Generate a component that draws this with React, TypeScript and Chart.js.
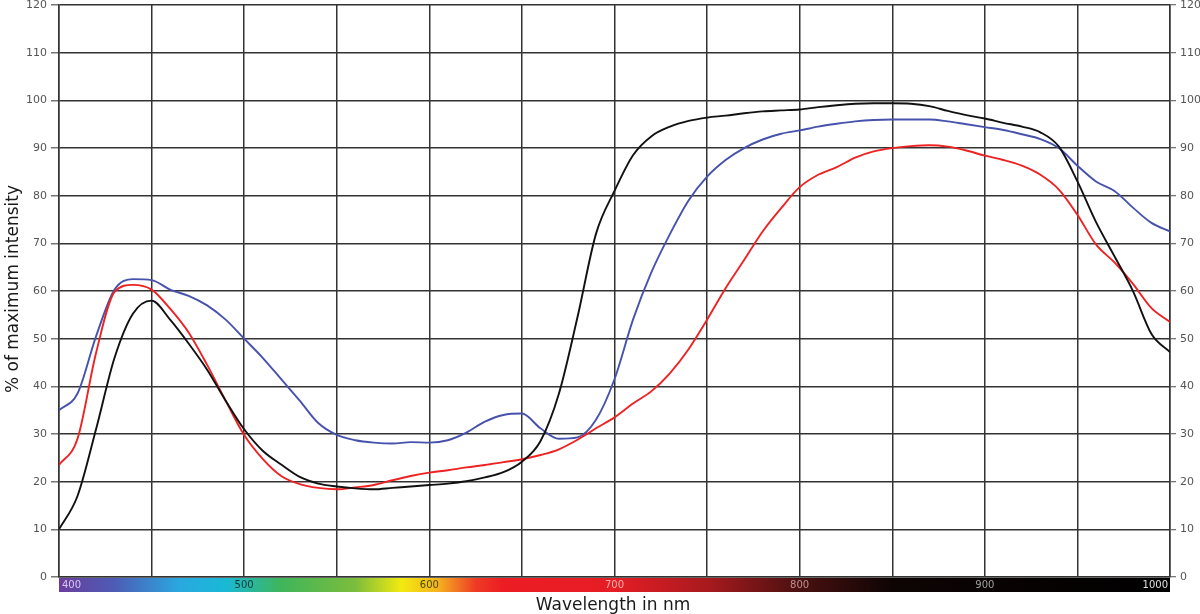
import React, { useEffect, useRef } from "react";
import { Chart, registerables } from "chart.js";

Chart.register(...registerables);

// wavelength grid (nm) shared by all three spectra
const wavelengths = [
  400, 410, 420, 430, 440, 450, 460, 470, 480, 490, 500, 510, 520, 530, 540,
  550, 560, 570, 580, 590, 600, 610, 620, 630, 640, 650, 660, 670, 680, 690,
  700, 710, 720, 730, 740, 750, 760, 770, 780, 790, 800, 810, 820, 830, 840,
  850, 860, 870, 880, 890, 900, 910, 920, 930, 940, 950, 960, 970, 980, 990,
  1000,
];

const blackValues = [
  10, 17, 31, 46, 55.3, 58, 54, 49, 43.5, 37, 31, 26.5, 23.6, 21, 19.6,
  19, 18.6, 18.4, 18.7, 19, 19.3, 19.6, 20.1, 20.9, 22, 24.2, 28.5, 38.5, 54.5, 72,
  81, 88.5, 92.5, 94.5, 95.7, 96.4, 96.8, 97.3, 97.7, 97.9, 98.1, 98.6, 99, 99.3, 99.4,
  99.4, 99.3, 98.8, 97.8, 96.9, 96.2, 95.3, 94.5, 93.3, 90.3, 83, 74.5, 67.3, 60, 51,
  47.2,
];

const blueValues = [
  35, 38.5, 50.5, 60.3, 62.5, 62.3, 60.3, 59, 57, 54, 50, 46, 41.5, 37, 32.3,
  29.8, 28.7, 28.2, 28, 28.3, 28.2, 28.7, 30.3, 32.6, 34, 34.3, 31.2, 29, 29.3, 33,
  41.5, 54, 64, 72, 79, 84, 87.5, 90, 91.8, 93, 93.7, 94.5, 95.1, 95.6, 95.9,
  96, 96, 96, 95.6, 95, 94.4, 93.8, 92.9, 91.9, 90, 86.3, 83, 81, 77.5, 74.3,
  72.5,
];

const redValues = [
  23.5, 29, 47, 59.8, 61.3, 60.3, 56.3, 51.3, 44.5, 37, 29.8, 24.8, 21.2, 19.5, 18.7,
  18.4, 18.8, 19.3, 20.3, 21.2, 21.9, 22.4, 23, 23.5, 24.1, 24.7, 25.6, 26.8, 28.8, 31.2,
  33.5, 36.4, 39, 42.8, 47.8, 54, 60.6, 66.5, 72.5, 77.4, 81.8, 84.4, 86, 88, 89.3,
  90, 90.4, 90.6, 90.3, 89.5, 88.4, 87.5, 86.3, 84.4, 81.3, 76, 69.8, 66, 61.5, 56.4,
  53.5,
];

// spectrum strip under the x axis
const spectrumStops: [number, string][] = [
  [400, "#6b3d9e"],
  [430, "#4d5cb5"],
  [465, "#2aa8e0"],
  [490, "#19b9d6"],
  [520, "#3fb55a"],
  [560, "#7cbd3c"],
  [585, "#f2ea10"],
  [605, "#f5b020"],
  [625, "#ee3b24"],
  [640, "#ec1c24"],
  [700, "#e61d25"],
  [750, "#a81a1e"],
  [800, "#4a1010"],
  [850, "#0e0404"],
  [1000, "#000000"],
];

const spectrumLabels = ["400", "500", "600", "700", "800", "900", "1000"];
const spectrumLabelColors = ["#d8c8f0", "#123a3a", "#4a4a10", "#ffb0b0", "#c09090", "#a0a0a0", "#e0e0e0"];

const FONT = "'DejaVu Sans', Verdana, sans-serif";

const toPoints = (vals: number[]) => wavelengths.map((w, i) => ({ x: w, y: vals[i] }));

const decorPlugin = {
  id: "decor",
  afterDraw: (chart: any) => {
    const { ctx, chartArea, scales } = chart;
    const x = scales.x;
    ctx.save();

    // colour strip
    const top = chartArea.bottom + 1;
    const h = 14;
    const grad = ctx.createLinearGradient(x.left, 0, x.right, 0);
    spectrumStops.forEach(([nm, c]) => {
      grad.addColorStop((nm - 400) / 600, c);
    });
    ctx.fillStyle = grad;
    ctx.fillRect(x.left, top, x.right - x.left, h);

    ctx.font = `10px ${FONT}`;
    ctx.textBaseline = "middle";
    spectrumLabels.forEach((lab, i) => {
      const px = x.getPixelForValue(Number(lab));
      ctx.fillStyle = spectrumLabelColors[i];
      if (i === 0) {
        ctx.textAlign = "left";
        ctx.fillText(lab, px + 3, top + h / 2);
      } else if (i === spectrumLabels.length - 1) {
        ctx.textAlign = "right";
        ctx.fillText(lab, px - 2, top + h / 2);
      } else {
        ctx.textAlign = "center";
        ctx.fillText(lab, px, top + h / 2);
      }
    });

    // axis titles
    ctx.fillStyle = "#1a1a1a";
    ctx.font = `17px ${FONT}`;
    ctx.textAlign = "center";
    ctx.textBaseline = "alphabetic";
    ctx.fillText("Wavelength in nm", 613, 610);

    ctx.translate(18, 289);
    ctx.rotate(-Math.PI / 2);
    ctx.fillText("% of maximum intensity", 0, 0);
    ctx.restore();
  },
};

function SpectrumChart() {
  const canvasRef = useRef<HTMLCanvasElement | null>(null);
  const chartRef = useRef<Chart | null>(null);

  useEffect(() => {
    const ctx = canvasRef.current?.getContext("2d");
    if (!ctx) return;
    if (chartRef.current) chartRef.current.destroy();

    const line = (vals: number[], color: string) => ({
      data: toPoints(vals),
      borderColor: color,
      backgroundColor: color,
      borderWidth: 1.9,
      pointRadius: 0,
      cubicInterpolationMode: "monotone" as const,
      fill: false,
    });

    // small lineHeight keeps chart.js from reserving space above the "120" label
    const yTicks = {
      stepSize: 10,
      color: "#555",
      padding: 4,
      font: { family: FONT, size: 11, lineHeight: 0.2 },
    };

    chartRef.current = new Chart(ctx, {
      type: "line",
      data: {
        datasets: [
          line(blackValues, "#111111"),
          line(redValues, "#ee2222"),
          line(blueValues, "#4652ac"),
        ],
      },
      options: {
        animation: false,
        responsive: true,
        maintainAspectRatio: false,
        layout: { padding: 0 },
        plugins: { legend: { display: false }, tooltip: { enabled: false } },
        scales: {
          x: {
            type: "linear",
            min: 400,
            max: 1000,
            ticks: { stepSize: 50, display: false },
            grid: { color: "#333", lineWidth: 1.5, drawTicks: false },
            border: { display: true, color: "#333", width: 1.5 },
            afterFit: (s: any) => {
              s.height = 37;
            },
          },
          y: {
            position: "left",
            min: 0,
            max: 120,
            ticks: yTicks,
            grid: { color: "#333", lineWidth: 1.5, tickLength: 8, tickColor: "#777" },
            border: { display: true, color: "#333", width: 1.5 },
            afterFit: (s: any) => {
              s.width = 59;
            },
          },
          y2: {
            position: "right",
            min: 0,
            max: 120,
            ticks: yTicks,
            grid: { drawOnChartArea: false, tickLength: 6, color: "#777", lineWidth: 1.3 },
            border: { display: true, color: "#333", width: 1.5 },
            afterFit: (s: any) => {
              s.width = 30;
            },
          },
        },
      },
      plugins: [decorPlugin],
    });

    return () => {
      if (chartRef.current) {
        chartRef.current.destroy();
        chartRef.current = null;
      }
    };
  }, []);

  return (
    <div style={{ position: "absolute", left: 0, top: 0, width: 1200, height: 614, background: "#fff" }}>
      <canvas ref={canvasRef} role="img" aria-label="Spectral intensity curves" />
    </div>
  );
}

export default function App() {
  return <SpectrumChart />;
}
